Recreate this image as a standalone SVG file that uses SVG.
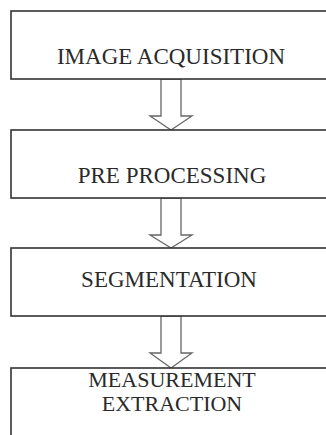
<svg xmlns="http://www.w3.org/2000/svg" width="326" height="435" viewBox="0 0 326 435">
<style>
.box{fill:#fff;stroke:#333;stroke-width:1.6}
.arr{fill:#fff;stroke:#666;stroke-width:1.3;stroke-linejoin:miter}
.lbl{font-family:"Liberation Serif","Times New Roman",serif;font-size:23px;fill:#2a2a2a;text-anchor:middle}
.sm{font-size:22px}
</style>
<rect width="326" height="435" fill="#fff"/>
<g id="connectors">
<polygon class="arr" points="161,79 181,79 181,116 192,116 171,130 150,116 161,116"/>
<polygon class="arr" points="161,198 181,198 181,235 192,235 171,248 150,235 161,235"/>
<polygon class="arr" points="161,316 181,316 181,353 192,353 171,368 150,353 161,353"/>
</g>
<g id="n1">
<rect class="box" x="11" y="11" width="330" height="68"/>
<text class="lbl" x="171" y="64">IMAGE ACQUISITION</text>
</g>
<g id="n2">
<rect class="box" x="11" y="130" width="330" height="68"/>
<text class="lbl" x="172" y="183">PRE PROCESSING</text>
</g>
<g id="n3">
<rect class="box" x="11" y="248" width="330" height="68"/>
<text class="lbl" x="169" y="287">SEGMENTATION</text>
</g>
<g id="n4">
<rect class="box" x="11" y="368" width="330" height="80"/>
<text class="lbl sm" x="172" y="387">MEASUREMENT</text>
<text class="lbl sm" x="172" y="411">EXTRACTION</text>
</g>
</svg>
